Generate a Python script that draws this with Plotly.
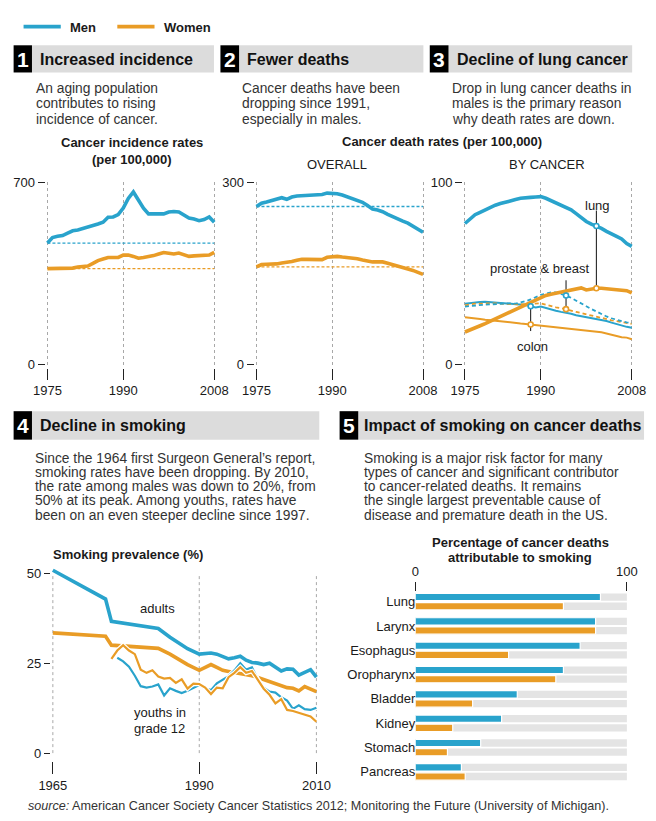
import plotly.graph_objects as go

W, H = 656, 821
FONT = 'Liberation Sans, Arial, Helvetica, sans-serif'
BLUE = '#29a3cc'
ORANGE = '#e99c26'
GRAY_BAR = '#e4e4e4'
HEAD_GRAY = '#dcdcdc'
TEXT = '#1a1a1a'
BODY = '#333333'

# ---------------- data ----------------
years = list(range(1975, 2009))
inc_men = [466, 487, 492, 495, 504, 513, 516, 521, 527, 533,
           539, 546, 565, 566, 575, 600, 637, 662, 631, 600,
           578, 578, 581, 578, 585, 587, 585, 575, 562, 558,
           552, 556, 566, 546]
inc_women = [368, 368, 367, 367, 368, 370, 374, 376, 378, 388,
             399, 405, 411, 411, 411, 420, 420, 415, 408, 411,
             414, 418, 424, 430, 427, 424, 428, 420, 415, 417,
             418, 418, 420, 430]
death_men = [259.8, 265.2, 267.3, 269.5, 271.6, 274.3, 271.6, 275.4, 277, 277.5,
             277.8, 278, 278.6, 279.6, 281.8, 281.8, 280.7, 278.6, 275.9, 273.2,
             270, 266.8, 261.4, 255.5, 253.9, 251.3, 247, 242.7, 239, 235.7,
             232.5, 227, 221.8, 217.5]
death_women = [160.7, 164.5, 165, 165, 165.5, 167.1, 167.7, 169.3, 171.4, 173,
               173, 173, 173, 172.5, 176.3, 177.3, 177.9, 176.8, 176.3, 175.2,
               174.1, 172, 169.8, 168.8, 168.8, 168.8, 166.6, 164, 160.7, 158.6,
               157, 154.8, 152.1, 148.4]
lung_men = [77.3, 80, 82.1, 83.4, 84.8, 86.1, 87.3, 88.2, 89.1, 89.8,
            90.4, 91.1, 91.6, 91.6, 91.8, 92, 91.1, 89.8, 88.9, 87.7,
            86.3, 84.8, 82.7, 80.4, 78.4, 77, 75.9, 74.6, 73, 71.4,
            70.2, 68.8, 66.3, 64.8]
lung_women = [17.9, 18.9, 20.2, 21.3, 22.5, 23.8, 25, 26.3, 27.5, 28.8,
              30, 31.4, 32.7, 34.1, 35.5, 36.8, 37.9, 38.6, 39.1, 39.6,
              40.2, 40.7, 41.3, 42, 40.9, 41.6, 41.8, 41.8, 41.6, 41.4,
              41.3, 40.9, 40.5, 39.3]
prostate_men = [31.8, 32.1, 32.7, 32.7, 32.9, 33, 33.2, 33.4, 33.6, 33.6,
                33.4, 33.9, 34.8, 35.7, 37, 38.2, 38.9, 39.5, 39.5, 38.8,
                37.9, 36.6, 35.2, 33.6, 32, 30.5, 29.1, 27.7, 26.4, 25.4,
                24.5, 23.8, 23.2, 22.7]
breast_women = [32.5, 33, 33.4, 33.4, 33.6, 33.6, 33.6, 33.4, 33.2, 33.2,
                33, 33, 33.2, 33.4, 33.6, 33.6, 32.9, 32, 31.4, 30.9,
                30.4, 29.6, 28.9, 28.2, 27.7, 27, 26.3, 25.5, 25, 24.3,
                23.8, 23.2, 22.9, 22.3]
colon_men = [33.4, 33.8, 34.1, 34.3, 34.5, 34.3, 34.1, 33.9, 33.6, 33.4,
             33.2, 33, 32.7, 32, 31.3, 31.8, 30.9, 30, 29.5, 28.9,
             28.6, 27.9, 27.1, 26.6, 26.1, 25.4, 25, 24.6, 23.9, 23,
             22.1, 21.3, 20.7, 20.2]
colon_women = [25.9, 25.7, 25.5, 25, 24.6, 24.5, 24.1, 23.8, 23.4, 23,
               22.7, 22.5, 22.3, 22, 21.6, 21.4, 21.1, 20.9, 20.5, 20.2,
               19.8, 19.6, 19.3, 18.9, 18.6, 18.4, 18, 17.7, 17.1, 16.4,
               15.4, 15, 14.8, 13.9]

adult_years = [1965, 1974, 1975, 1983, 1985, 1987, 1988] + list(range(1990, 2011))
adult_men = [50.8, 42.8, 36.6, 34.6, 32.2, 30.1, 29,
             27.5, 27.6, 27.8, 27.5, 26.8, 26.2, 26.5, 26.9, 25.8, 25.2,
             25, 24.6, 25, 24, 22.8, 23.4, 23.3, 21.7, 22.5, 23.2, 21.1]
adult_women = [33.4, 32.5, 30, 29.1, 27.5, 25.5, 24.6,
               23, 23.8, 24.6, 23.8, 23, 22.7, 22.4, 22.2, 21.8, 21.5,
               21, 20.4, 19.8, 19.3, 18.8, 18.2, 18, 17.3, 18.5, 17.9, 17.1]
boys_years = list(range(1976, 2011))
youth_boys = [26.5, 25.5, 24, 21.5, 18.6, 18.2, 18.5, 19.1, 16, 18,
              17.3, 16.7, 17.3, 18, 18.9, 18, 17.5, 19.4, 20.5, 21.4,
              23, 25, 23.2, 23.8, 20.5, 18.2, 17.1, 16.8, 15.5, 14.6,
              12.3, 13.3, 12.2, 12, 12.6]
girls_years = list(range(1975, 2011))
youth_girls = [26.2, 28.5, 30, 28.5, 27.5, 23.2, 22.3, 23, 21.3, 20.7,
               20.9, 19.5, 20.5, 17.9, 19.3, 19.2, 18.2, 16.4, 18.2, 18,
               21.1, 22.3, 23.9, 22.3, 22.8, 20.2, 17.9, 16.2, 13.8, 15,
               12, 11.7, 11.2, 10.8, 10.2, 8.7]

cancers = ['Lung', 'Larynx', 'Esophagus', 'Oropharynx', 'Bladder', 'Kidney', 'Stomach', 'Pancreas']
pct_men = [87.5, 85.2, 77.9, 70.0, 48.2, 40.8, 30.9, 21.8]
pct_women = [70.0, 85.2, 44.1, 66.4, 27.1, 17.7, 15.2, 23.6]
pct_full = 100

# ---------------- helpers ----------------
def X(px):
    return px / W

def Y(py):
    return 1 - py / H

def xdomain(p0, p1, v0, v1, r0, r1):
    k = (p1 - p0) / (v1 - v0)
    return [X(p0 + (r0 - v0) * k), X(p0 + (r1 - v0) * k)]

def ydomain(pb, pt, v0, v1, r0, r1):
    k = (pb - pt) / (v1 - v0)
    return [Y(pb - (r0 - v0) * k), Y(pb - (r1 - v0) * k)]

fig = go.Figure()

def ax(n):
    return '' if n == 1 else str(n)

def line(xs, ys, n, color, width, dash='solid'):
    fig.add_trace(go.Scatter(x=xs, y=ys, xaxis='x' + ax(n), yaxis='y' + ax(n), mode='lines',
                             line=dict(color=color, width=width, dash=dash),
                             hoverinfo='skip', showlegend=False))

def dot(xv, yv, n, color):
    fig.add_trace(go.Scatter(x=[xv], y=[yv], xaxis='x' + ax(n), yaxis='y' + ax(n), mode='markers',
                             marker=dict(size=5, color='white', line=dict(color=color, width=1.6)),
                             hoverinfo='skip', showlegend=False, cliponaxis=False))

# ---- chart 1: incidence
line([years[0], years[-1]], [inc_men[0], inc_men[0]], 1, BLUE, 1.3, '3px,2px')
line([years[0], years[-1]], [inc_women[0], inc_women[0]], 1, ORANGE, 1.3, '3px,2px')
line(years, inc_men, 1, BLUE, 3.6)
line(years, inc_women, 1, ORANGE, 3.6)

# ---- chart 2: death overall
line([years[0], years[-1]], [death_men[0], death_men[0]], 2, BLUE, 1.3, '3px,2px')
line([years[0], years[-1]], [death_women[0], death_women[0]], 2, ORANGE, 1.3, '3px,2px')
line(years, death_men, 2, BLUE, 3.6)
line(years, death_women, 2, ORANGE, 3.6)

# ---- chart 3: by cancer
line(years, colon_women, 3, ORANGE, 2)
line(years, colon_men, 3, BLUE, 2)
line(years, breast_women, 3, ORANGE, 1.8, '4px,3px')
line(years, prostate_men, 3, BLUE, 1.8, '4px,3px')
line(years, lung_women, 3, ORANGE, 3.6)
line(years, lung_men, 3, BLUE, 3.6)

i_lung = years.index(2001)
i_pb = years.index(1995)
i_col = years.index(1988)
dot(years[i_lung], lung_men[i_lung], 3, BLUE)
dot(years[i_lung], lung_women[i_lung], 3, ORANGE)
dot(years[i_pb], prostate_men[i_pb], 3, BLUE)
dot(years[i_pb], breast_women[i_pb], 3, ORANGE)
dot(years[i_col], colon_men[i_col], 3, BLUE)
dot(years[i_col], colon_women[i_col], 3, ORANGE)

# ---- chart 4: smoking
line(adult_years, adult_men, 4, BLUE, 3.6)
line(adult_years, adult_women, 4, ORANGE, 3.6)
line(boys_years, youth_boys, 4, 'white', 4.5)
line(boys_years, youth_boys, 4, BLUE, 2.2)
line(girls_years, youth_girls, 4, 'white', 4.5)
line(girls_years, youth_girls, 4, ORANGE, 2.2)

# ---- chart 5: bars
BW = 0.3
OFF_M, OFF_W = -0.337, 0.04
for off in (OFF_M, OFF_W):
    fig.add_trace(go.Bar(x=[pct_full] * len(cancers), y=cancers, orientation='h', xaxis='x5', yaxis='y5',
                         width=BW, offset=off, marker=dict(color=GRAY_BAR, line=dict(width=0)),
                         hoverinfo='skip', showlegend=False))
fig.add_trace(go.Bar(x=pct_men, y=cancers, orientation='h', xaxis='x5', yaxis='y5', width=BW, offset=OFF_M,
                     marker=dict(color=BLUE, line=dict(color='white', width=1.2)),
                     hoverinfo='skip', showlegend=False))
fig.add_trace(go.Bar(x=pct_women, y=cancers, orientation='h', xaxis='x5', yaxis='y5', width=BW, offset=OFF_W,
                     marker=dict(color=ORANGE, line=dict(color='white', width=1.2)),
                     hoverinfo='skip', showlegend=False))

# ---------------- axes ----------------
tickfont = dict(family=FONT, size=13, color=TEXT)
common = dict(showline=False, zeroline=False, ticks='outside', tickcolor='#222', tickwidth=1,
              tickfont=tickfont, fixedrange=True)

def line_chart_axes(n, x0px, x1px, yvmax, ylabel):
    xa = dict(common, domain=xdomain(x0px, x1px, 1975, 2008, 1974.4, 2008.6), range=[1974.4, 2008.6],
              tickvals=[1975, 1990, 2008], anchor='free', position=Y(367.3), ticklen=11,
              showgrid=True, gridcolor='#a8a8a8', griddash='dot', gridwidth=1)
    ya = dict(common, domain=[Y(364.3), Y(178.3)], range=[0, yvmax], tickvals=[0, yvmax],
              ticktext=['0', ylabel], anchor='free', position=X(x0px - 3), ticklen=7, showgrid=False)
    return xa, ya

layout_axes = {}
for n, (x0, x1, vmax, lab) in enumerate([(37.7, 210.3, 700, '700'), (254, 426.3, 300, '300'),
                                          (469.7, 642.3, 100, '100')], start=1):
    xa, ya = line_chart_axes(n, x0, x1, vmax, lab)
    layout_axes['xaxis' + ax(n)] = xa
    layout_axes['yaxis' + ax(n)] = ya

layout_axes['xaxis4'] = dict(common, domain=xdomain(43.3, 316, 1965, 2010, 1964.4, 2010.6),
                             range=[1964.4, 2010.6], tickvals=[1965, 1990, 2010], anchor='free',
                             position=Y(768.3), ticklen=12, showgrid=False)
layout_axes['yaxis4'] = dict(common, domain=ydomain(760, 576.7, 0, 50, 0, 52.5), range=[0, 52.5],
                             tickvals=[0, 25, 50], anchor='free', position=X(43.3 - 2.6), ticklen=6.5,
                             showgrid=False)
layout_axes['xaxis5'] = dict(common, domain=[X(418.3), X(637.3)], range=[0, 100], side='top',
                             tickvals=[0, 100], anchor='free', position=Y(594.5), ticklen=9, showgrid=False)
layout_axes['yaxis5'] = dict(showline=False, zeroline=False, ticks='', tickfont=tickfont, fixedrange=True,
                             domain=[Y(791.5), Y(593.3)], type='category', categoryorder='array',
                             categoryarray=cancers, range=[7.5, -0.5], anchor='free', position=X(418.3),
                             showgrid=False)

# ---------------- shapes & annotations ----------------
shapes = []
ann = []

def rect(x0, y0, x1, y1, color):
    shapes.append(dict(type='rect', xref='paper', yref='paper', x0=X(x0), x1=X(x1), y0=Y(y1), y1=Y(y0),
                       fillcolor=color, line=dict(width=0), layer='below'))

def T(x, y, s, size=13, color=TEXT, xa='left'):
    ann.append(dict(x=X(x), y=Y(y), xref='paper', yref='paper', text=s, showarrow=False,
                    xanchor=xa, yanchor='middle', borderpad=0,
                    font=dict(family=FONT, size=size, color=color)))

# legend
shapes.append(dict(type='line', xref='paper', yref='paper', x0=X(13), x1=X(51.5), y0=Y(20), y1=Y(20),
                   line=dict(color=BLUE, width=3.6)))
shapes.append(dict(type='line', xref='paper', yref='paper', x0=X(110), x1=X(148.5), y0=Y(20), y1=Y(20),
                   line=dict(color=ORANGE, width=3.6)))
T(60, 20.5, '<b>Men</b>', 13)
T(157.3, 20.5, '<b>Women</b>', 13)

# headers
headers = [
    (2.7, 21.7, 210, 39, 66.7, '1', 'Increased incidence', 29.3),
    (216.7, 236, 426.7, 39, 66.7, '2', 'Fewer deaths', 242.7),
    (433.3, 452.7, 642.7, 39, 66.7, '3', 'Decline of lung cancer', 460),
    (2.7, 21.7, 319, 411.7, 440.7, '4', 'Decline in smoking', 29.3),
    (340, 359.3, 655, 411.7, 440.7, '5', 'Impact of smoking on cancer deaths', 364),
]
for bx0, bx1, gx1, y0, y1, num, title, tx in headers:
    rect(bx1, y0, gx1, y1, HEAD_GRAY)
    rect(bx0, y0, bx1, y1, '#000000')
    T((bx0 + bx1) / 2, (y0 + y1) / 2 + 0.5, '<b>%s</b>' % num, 21, 'white', 'center')
    T(tx, (y0 + y1) / 2 + 0.5, '<b>%s</b>' % title, 16, '#111111')

descs = [
    (25, [82.7, 98.5, 114.3], ['An aging population', 'contributes to rising', 'incidence of cancer.']),
    (237.7, [82.7, 98.5, 114.3], ['Cancer deaths have been', 'dropping since 1991,', 'especially in males.']),
    (455.7, [82.7, 98.5, 114.3], ['Drop in lung cancer deaths in', 'males is the primary reason',
                                  'why death rates are down.']),
    (24, [459.5, 474, 488.5, 503, 517.5], ['Since the 1964 first Surgeon General\u2019s report,',
                                           'smoking rates have been dropping. By 2010,',
                                           'the rate among males was down to 20%, from',
                                           '50% at its peak. Among youths, rates have',
                                           'been on an even steeper decline since 1997.']),
    (364, [459.5, 474, 488.5, 503, 517.5], ['Smoking is a major risk factor for many',
                                            'types of cancer and significant contributor',
                                            'to cancer-related deaths. It remains',
                                            'the single largest preventable cause of',
                                            'disease and premature death in the US.']),
]
for x, ys, lines in descs:
    for yy, s in zip(ys, lines):
        T(x, yy, s, 13.8, BODY)

# chart labels
T(125.3, 138.3, '<b>Cancer incidence rates</b>', 13, TEXT, 'center')
T(125.3, 155, '<b>(per 100,000)</b>', 13, TEXT, 'center')
T(445.5, 137.3, '<b>Cancer death rates (per 100,000)</b>', 13, TEXT, 'center')
T(337, 160.7, 'OVERALL', 13, TEXT, 'center')
T(555, 160.7, 'BY CANCER', 13, TEXT, 'center')
T(606.7, 201.7, 'lung', 13, TEXT, 'center')
T(547.2, 266, 'prostate &amp; breast', 13, TEXT, 'center')
T(540, 346, 'colon', 13, TEXT, 'center')
T(42.7, 557.3, '<b>Smoking prevalence (%)</b>', 13, TEXT)
T(152, 613, 'adults', 13, TEXT, 'center')
T(126, 719, 'youths in', 13, TEXT)
T(126, 734.5, 'grade 12', 13, TEXT)
T(526.7, 545, '<b>Percentage of cancer deaths</b>', 13, TEXT, 'center')
T(526.7, 560.7, '<b>attributable to smoking</b>', 13, TEXT, 'center')
T(16.7, 814, '<i>source:</i> American Cancer Society Cancer Statistics 2012; Monitoring the Future '
             '(University of Michigan).', 12.6, BODY)

# pointer lines in chart 3
for xv, ya, yb in [(years[i_lung], lung_women[i_lung], 84.4),
                   (years[i_pb], breast_women[i_pb], 46.2),
                   (years[i_col], colon_men[i_col], 18.4)]:
    shapes.append(dict(type='line', xref='x3', yref='y3', x0=xv, x1=xv, y0=ya, y1=yb,
                       line=dict(color='#111111', width=1), layer='below'))

# gridlines for chart 4
for xv in [1965, 1990, 2010]:
    shapes.append(dict(type='line', xref='x4', yref='paper', x0=xv, x1=xv, y0=Y(760), y1=Y(576.7),
                       line=dict(color='#a8a8a8', width=1, dash='dot'), layer='below'))

# no layout width/height: the page div supplies exact size and is pinned to the top-left corner
fig.update_layout(
    autosize=True,
    margin=dict(l=0, r=0, t=0, b=0, pad=0),
    paper_bgcolor='white', plot_bgcolor='rgba(0,0,0,0)',
    showlegend=False, hovermode=False, barmode='overlay',
    font=dict(family=FONT, size=13, color=TEXT),
    shapes=shapes, annotations=ann,
    **layout_axes,
)

fig.write_html("out.html", config={'displayModeBar': False, 'staticPlot': True},
               default_width="%dpx; position:fixed; left:0px; top:0px; margin:0px" % W,
               default_height="%dpx" % H)
